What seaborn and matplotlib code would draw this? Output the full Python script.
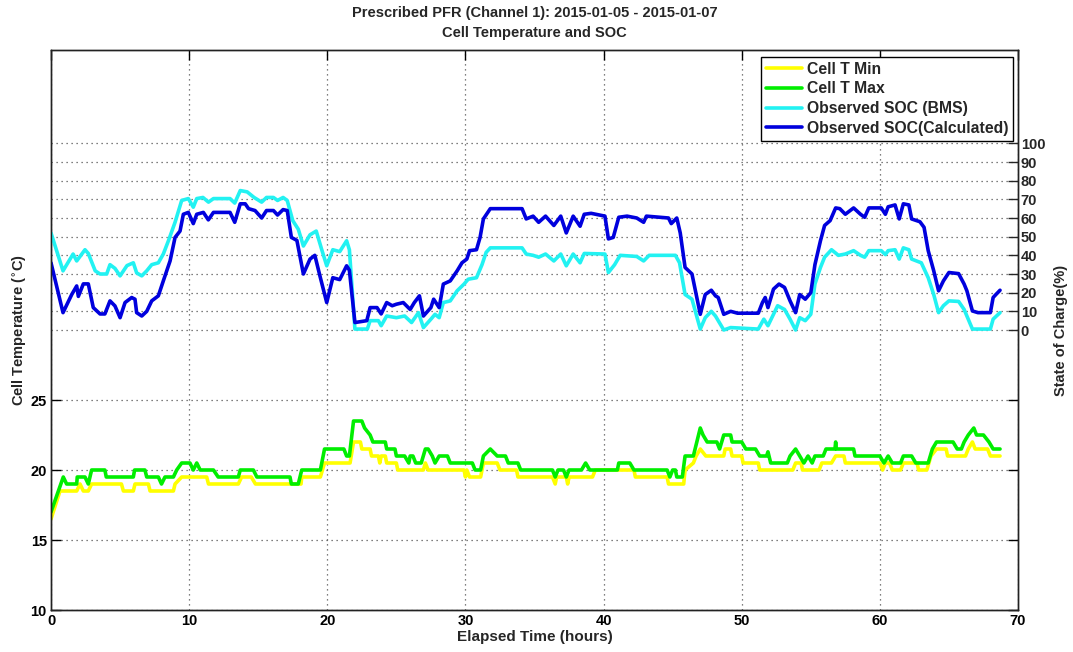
import matplotlib
matplotlib.use("Agg")
import matplotlib.pyplot as plt
import seaborn as sns
from matplotlib.lines import Line2D

# ---------------- data ----------------
soc_calc_t = [0, 0.87, 1.5, 1.86, 1.98, 2.34, 2.7, 3.06, 3.55, 3.9, 4.27, 4.63, 5.0, 5.36, 5.84, 6.08, 6.2, 6.57,
              6.93, 7.29, 7.77, 8.13, 8.62, 8.98, 9.34, 9.58, 9.94, 10.3, 10.55, 11.03, 11.39, 11.76, 12.96, 13.3,
              13.7, 14.06, 14.3, 14.77, 15.25, 15.6, 16.1, 16.4, 16.8, 17.1, 17.4, 17.8, 18.27, 18.75, 19.1, 19.5,
              19.96, 20.4, 20.9, 21.4, 21.6, 22.0, 22.86, 23.1, 23.6, 23.9, 24.3, 24.7, 25.0, 25.5, 26.0, 26.3,
              26.67, 26.96, 27.5, 27.7, 28.1, 28.4, 28.9, 29.4, 29.75, 30.1, 30.3, 30.8, 31.06, 31.3, 31.8, 34.1,
              34.4, 34.9, 35.3, 35.8, 36.4, 36.9, 37.3, 37.8, 38.3, 38.6, 39.1, 40.1, 40.35, 40.7, 41.1, 41.7,
              42.4, 42.9, 43.1, 44.7, 44.9, 45.3, 45.55, 45.9, 46.4, 47.0, 47.36, 47.8, 48.1, 48.3, 48.7, 49.2,
              49.7, 51.2, 51.5, 51.7, 51.9, 52.3, 52.7, 53.1, 53.5, 53.9, 54.2, 54.6, 55.0, 55.3, 55.7, 56.0,
              56.4, 56.8, 57.1, 57.5, 58.1, 58.6, 58.9, 59.2, 60.1, 60.4, 60.6, 61.1, 61.4, 61.7, 62.1, 62.3,
              62.9, 63.2, 63.5, 63.9, 64.25, 64.6, 65.0, 65.7, 66.1, 66.3, 66.7, 67.1, 68.0, 68.2, 68.4, 68.7]
soc_calc_v = [36, 9.3, 19, 23.6, 18, 24.7, 24.7, 12, 8.6, 8.6, 15.6, 12.9, 6.6, 14.7, 17.4, 16.5, 9.3, 7.5,
              10, 15.6, 18.3, 26.3, 37, 49.6, 53, 62, 63, 57, 62, 63, 59, 63, 63, 57.7,
              67.6, 67.6, 65, 64, 60, 64, 64, 61.6, 64.5, 64, 49.6, 48, 30, 38, 40, 28,
              14.7, 28, 27, 34.4, 32, 4, 5, 12, 12, 8.6, 14.7, 13, 13.8, 14.7, 11, 14.7,
              18.3, 7.5, 12, 16.5, 12, 24.6, 26.3, 31.7, 36, 38, 42.5, 43, 49.6, 59.5, 65, 65,
              59.5, 61, 57.7, 61, 56, 61, 52, 61, 55.6, 62, 62.5, 61, 48.8, 49.6, 60.4, 61,
              60, 57.7, 61, 60, 57, 60, 52, 33.5, 30, 8.4, 19, 21.3, 18.3, 17.4, 8.4, 10,
              9, 9, 14.7, 17.4, 12, 21.9, 24.6, 22.8, 15.6, 9.3, 19, 16.5, 20, 35, 47.8, 56,
              58.6, 65.4, 65, 62, 65.4, 62, 60.4, 65.4, 65.4, 62, 66, 67, 59.5, 67.6, 67, 59.5,
              58, 55, 42.5, 31.7, 21, 26.3, 30.8, 30.2, 24.6, 21, 10.2, 9.3, 9.3, 17.4, 19, 21.3]

soc_bms_t = [0, 0.87, 1.6, 1.86, 2.46, 2.7, 3.2, 3.55, 4.03, 4.27, 4.63, 5.0, 5.5, 5.96, 6.2, 6.57, 6.93, 7.29,
             7.77, 8.13, 8.5, 8.98, 9.46, 9.94, 10.3, 10.55, 11.0, 11.4, 11.76, 12.96, 13.3, 13.7, 14.2, 14.7,
             15.25, 15.6, 16.1, 16.4, 16.8, 17.1, 17.5, 17.9, 18.27, 18.75, 19.2, 19.6, 19.96, 20.4, 20.9, 21.4,
             21.6, 22.0, 22.9, 23.1, 23.7, 23.9, 24.3, 25.0, 25.6, 26.1, 26.6, 26.96, 27.5, 27.8, 28.1, 28.4,
             28.9, 29.4, 29.9, 30.2, 30.8, 31.2, 31.5, 31.8, 34.1, 34.4, 34.9, 35.3, 35.8, 36.4, 36.9, 37.3,
             37.8, 38.3, 38.6, 40.1, 40.35, 40.8, 41.2, 42.4, 42.9, 43.3, 45.2, 45.5, 45.9, 46.4, 47.0, 47.36,
             47.8, 48.1, 48.3, 48.7, 49.2, 51.2, 51.6, 51.9, 52.6, 53.1, 53.5, 53.9, 54.2, 54.6, 55.0, 55.3,
             55.7, 56.0, 56.5, 57.0, 57.5, 58.1, 58.6, 58.9, 59.2, 60.1, 60.4, 60.6, 61.1, 61.4, 61.7, 62.1,
             62.3, 63.0, 63.5, 63.9, 64.25, 64.6, 65.0, 65.7, 66.1, 66.3, 66.7, 68.0, 68.2, 68.7]
soc_bms_v = [52, 31.7, 40.7, 37, 43, 41, 31.7, 30, 30, 35, 33, 29, 34.5, 36, 30.6, 29, 31.7, 35,
             36, 40.7, 47.8, 57.7, 69.4, 70.4, 65.8, 70.4, 71, 68.5, 70.4, 70.4, 68, 74.7, 74, 71,
             68.5, 71, 71, 69.4, 71, 69.4, 58.6, 54, 45, 51, 53, 43, 34.4, 43, 42, 47.8,
             43, 0.5, 0.5, 5, 5, 2.3, 7.5, 6.6, 7.5, 4, 9.3, 1.3, 5.8, 8.4, 6.6, 14.7,
             15.6, 21, 24.6, 27.2, 28, 35, 41.6, 44, 44, 40.7, 40, 39, 40.7, 37, 40.7, 34.4,
             40.7, 36, 41, 40.7, 30.8, 35, 40, 39.4, 37, 40, 40, 36, 19, 16.5, 0.5, 6.6,
             10, 7.5, 5, 0, 1.3, 0.5, 5.8, 2.3, 13, 11, 5.8, 0, 6.6, 5, 8.4, 24.6,
             33.5, 39, 43, 40, 40.7, 42.5, 40, 39, 42.5, 42.5, 40.4, 42.5, 43, 38, 44, 43,
             38, 36, 28, 19, 9.3, 13, 15.6, 15.3, 11, 7.5, 0.5, 0.5, 5.8, 9.3]

tmax_t = [0.0, 0.53, 0.89, 1.13, 1.86, 1.9, 2.46, 2.7, 2.94, 3.9, 4.0, 5.96, 6.05, 6.8, 6.93, 7.77, 8.0, 8.25,
          8.86, 9.1, 9.46, 10.06, 10.3, 10.55, 10.8, 11.76, 12.1, 13.56, 13.7, 14.65, 14.9, 17.3, 17.4, 17.9,
          18.15, 19.5, 19.8, 21.2, 21.4, 21.6, 21.9, 22.5, 22.7, 23.1, 23.3, 24.2, 24.3, 24.9, 25.0, 25.6,
          25.9, 26.0, 26.2, 26.4, 26.8, 27.1, 27.3, 27.6, 27.8, 28.1, 28.7, 28.9, 30.5, 30.7, 31.1, 31.3,
          31.8, 32.3, 32.9, 33.1, 33.8, 34.0, 36.3, 36.5, 36.7, 37.1, 37.3, 37.5, 38.4, 38.7, 39.0, 41.0,
          41.1, 41.9, 42.2, 44.6, 44.8, 45.0, 45.2, 45.3, 45.7, 45.9, 46.5, 47.0, 47.2, 47.5, 48.2, 48.4,
          48.7, 49.2, 49.3, 50.0, 50.3, 51.0, 51.3, 51.8, 51.9, 52.1, 53.3, 53.5, 53.9, 54.2, 54.5, 54.8,
          55.1, 55.3, 55.9, 56.1, 56.75, 56.8, 56.85, 58.1, 58.2, 60.0, 60.3, 60.6, 60.9, 61.5, 61.7, 62.3,
          62.6, 63.5, 63.8, 64.1, 65.3, 65.6, 65.9, 66.1, 66.4, 66.8, 67.0, 67.5, 67.9, 68.2, 68.7]
tmax_v = [17.0, 18.5, 19.5, 19.0, 19.0, 19.5, 19.5, 19.0, 20.0, 20.0, 19.5, 19.5, 20.0, 20.0, 19.5, 19.5, 19.0, 19.5,
          19.5, 20.0, 20.5, 20.5, 20.0, 20.5, 20.0, 20.0, 19.5, 19.5, 20.0, 20.0, 19.5, 19.5, 19.0, 19.0,
          20.0, 20.0, 21.5, 21.5, 21.0, 21.0, 23.5, 23.5, 23.0, 22.5, 22.0, 22.0, 21.5, 21.5, 21.0, 21.0,
          20.5, 21.0, 21.0, 20.5, 20.5, 21.5, 21.5, 21.0, 20.5, 21.0, 21.0, 20.5, 20.5, 20.0, 20.0, 21.0,
          21.5, 21.0, 21.0, 20.5, 20.5, 20.0, 20.0, 19.5, 20.0, 20.0, 19.5, 20.0, 20.0, 20.5, 20.0, 20.0,
          20.5, 20.5, 20.0, 20.0, 19.5, 20.0, 20.0, 19.5, 19.5, 21.0, 21.0, 23.0, 22.5, 22.0, 22.0, 21.5,
          22.5, 22.5, 22.0, 22.0, 21.5, 21.5, 21.0, 21.0, 21.3, 20.5, 20.5, 21.0, 21.5, 21.0, 20.5, 21.0,
          20.5, 21.0, 21.0, 21.5, 21.5, 22.0, 21.5, 21.5, 21.0, 21.0, 20.5, 21.0, 20.5, 20.5, 21.0, 21.0,
          20.5, 20.5, 21.5, 22.0, 22.0, 21.5, 21.5, 22.0, 22.5, 23.0, 22.5, 22.5, 22.0, 21.5, 21.5]

tmin_t = [0.0, 0.65, 1.86, 2.1, 2.34, 2.7, 2.94, 5.1, 5.24, 5.96, 6.08, 7.05, 7.17, 8.86, 8.98, 9.46, 11.27, 11.4,
          13.56, 13.8, 14.5, 14.8, 18.1, 18.15, 19.5, 19.8, 21.65, 21.9, 22.4, 22.5, 23.1, 23.2, 23.7, 23.8,
          23.9, 24.2, 24.3, 25.0, 25.1, 26.96, 27.1, 27.3, 29.9, 30.0, 30.1, 30.3, 31.1, 31.3, 32.3, 32.5,
          33.7, 33.8, 36.3, 36.5, 36.6, 37.3, 37.4, 37.5, 39.2, 39.4, 42.2, 42.3, 44.6, 44.7, 45.8, 45.9,
          46.5, 46.7, 47.0, 47.4, 48.7, 48.8, 49.2, 49.3, 50.0, 50.1, 51.2, 51.3, 53.7, 53.9, 54.3, 54.4,
          55.6, 55.8, 56.5, 56.8, 57.4, 57.5, 60.0, 60.2, 60.4, 60.7, 60.9, 61.5, 61.7, 62.7, 62.8, 63.4,
          63.7, 64.1, 64.8, 64.9, 66.2, 66.4, 66.7, 66.9, 67.8, 68.0, 68.7]
tmin_v = [16.5, 18.5, 18.5, 19.0, 18.5, 18.5, 19.0, 19.0, 18.5, 18.5, 19.0, 19.0, 18.5, 18.5, 19.0, 19.5, 19.5, 19.0,
          19.0, 19.5, 19.5, 19.0, 19.0, 19.5, 19.5, 20.5, 20.5, 22.0, 22.0, 21.5, 21.5, 21.0, 21.0, 20.5,
          21.0, 21.0, 20.5, 20.5, 20.0, 20.0, 20.5, 20.0, 20.0, 19.5, 20.0, 19.5, 19.5, 20.5, 20.5, 20.0,
          20.0, 19.5, 19.5, 19.0, 19.5, 19.5, 19.0, 19.5, 19.5, 20.0, 20.0, 19.5, 19.5, 19.0, 19.0, 20.0,
          20.5, 21.0, 21.5, 21.0, 21.0, 21.5, 21.5, 21.0, 21.0, 20.5, 20.5, 20.0, 20.0, 20.5, 20.5, 20.0,
          20.0, 20.5, 20.5, 21.0, 21.0, 20.5, 20.5, 20.0, 20.5, 20.5, 20.0, 20.0, 20.5, 20.5, 20.0, 20.0,
          21.0, 21.5, 21.5, 21.0, 21.0, 21.5, 22.0, 21.5, 21.5, 21.0, 21.0]

x_ticks = [0, 10, 20, 30, 40, 50, 60, 70]
temp_ticks = [10, 15, 20, 25]
soc_ticks = [0, 10, 20, 30, 40, 50, 60, 70, 80, 90, 100]

labels = ["Cell T Min", "Cell T Max", "Observed SOC (BMS)", "Observed SOC(Calculated)"]
colors = ["#ffff00", "#00ee00", "#22f2f2", "#0000dd"]

# ---------------- style ----------------
sns.set_style("white")
plt.rcParams["font.family"] = ["Liberation Sans", "DejaVu Sans"]
plt.rcParams["font.weight"] = "bold"
plt.rcParams["axes.labelweight"] = "bold"
plt.rcParams["axes.titleweight"] = "bold"

fig = plt.figure(figsize=(10.73, 6.52), dpi=100)
ax = fig.add_axes([51 / 1073, 42 / 652, 967 / 1073, 560 / 652])
ax2 = ax.twinx()

LW = 2.6
sns.lineplot(x=tmin_t, y=tmin_v, ax=ax, color=colors[0], lw=LW, estimator=None, sort=False)
sns.lineplot(x=tmax_t, y=tmax_v, ax=ax, color=colors[1], lw=LW, estimator=None, sort=False)
sns.lineplot(x=soc_bms_t, y=soc_bms_v, ax=ax2, color=colors[2], lw=LW, estimator=None, sort=False)
sns.lineplot(x=soc_calc_t, y=soc_calc_v, ax=ax2, color=colors[3], lw=LW, estimator=None, sort=False)

ax.set_xlim(0, 70)
ax.set_ylim(10, 50)
ax.set_xticks(x_ticks)
ax.set_yticks(temp_ticks)
ax2.set_ylim(-150, 150)
ax2.set_yticks(soc_ticks)

grid_kw = dict(color="#555555", linestyle=(0, (1, 3)), linewidth=0.9)
ax.grid(True, **grid_kw)
ax2.grid(True, axis="y", **grid_kw)
ax2.grid(False, axis="x")

ax.tick_params(axis="both", direction="in", length=7, width=1, labelsize=10.5, colors="black",
               top=True, right=True, pad=3)
ax2.tick_params(axis="y", direction="in", length=7, width=1, labelsize=10.5, pad=2)
for a in (ax, ax2):
    for s in a.spines.values():
        s.set_color("#222222")
        s.set_linewidth(1.0)
    for lab in a.get_xticklabels() + a.get_yticklabels():
        lab.set_fontweight("bold")

ax.set_xlabel("Elapsed Time (hours)", fontsize=11, labelpad=1)
ax.set_ylabel("Cell Temperature ($^{\\circ}$C)", fontsize=10.5, labelpad=1)
ax2.set_ylabel("State of Charge(%)", fontsize=10.5, labelpad=6)

fig.suptitle("Prescribed PFR (Channel 1): 2015-01-05 - 2015-01-07\nCell Temperature and SOC",
             x=534.5 / 1073, y=1 - 6 / 652, fontsize=10.5, fontweight="bold", linespacing=1.55)

handles = [Line2D([], [], color=c, lw=LW) for c in colors]
leg = ax2.legend(handles, labels, loc="upper right", bbox_to_anchor=(0.995, 0.9875),
                 borderaxespad=0, fancybox=False, framealpha=1, edgecolor="black",
                 fontsize=11.3, handlelength=2.3, handletextpad=0.3, labelspacing=0.3, borderpad=0.3)
for t in leg.get_texts():
    t.set_fontweight("bold")
    t.set_fontfamily(["Liberation Sans", "DejaVu Sans"])
leg.get_frame().set_linewidth(1.0)

fig.savefig("out.png", dpi=100)
